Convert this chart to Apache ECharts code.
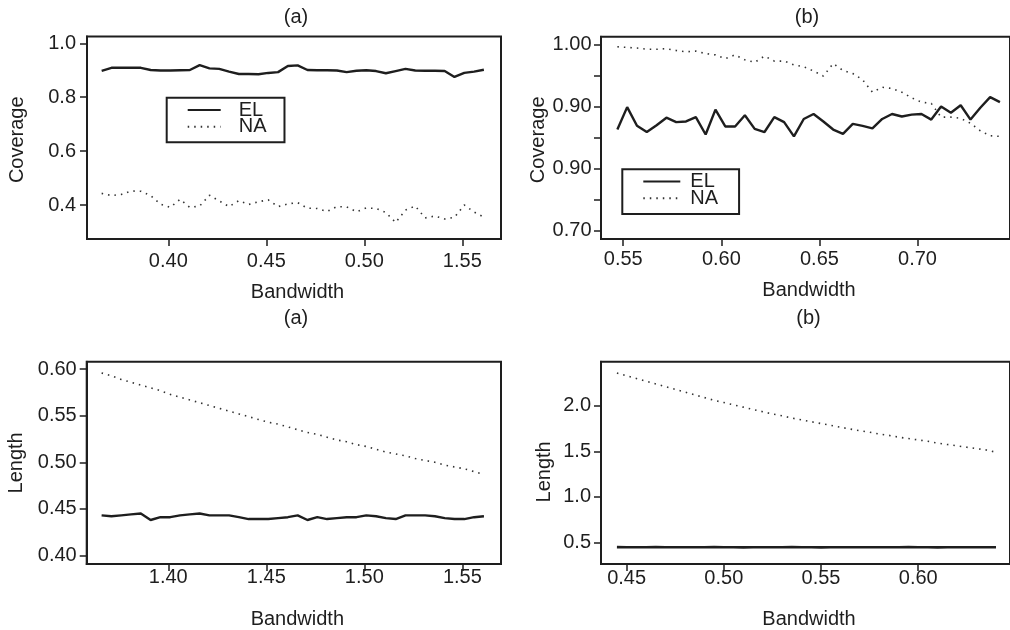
<!DOCTYPE html>
<html>
<head>
<meta charset="utf-8">
<title>Coverage and Length vs Bandwidth</title>
<script src="https://cdn.jsdelivr.net/npm/echarts@6/dist/echarts.min.js"></script>
<style>
  html, body { margin: 0; padding: 0; background: #fff; }
  #chart { width: 1010px; height: 630px; }
</style>
</head>
<body>
<div id="chart"></div>
<script>
// ---- bandwidth grids ----
const bwCovA = [0.366,0.371,0.376,0.381,0.386,0.391,0.396,0.401,0.406,0.411,0.416,0.421,0.426,0.431,0.436,0.441,0.446,0.451,0.456,0.461,0.466,0.471,0.476,0.481,0.486,0.491,0.496,0.501,0.506,0.511,0.516,0.521,0.526,0.531,0.536,0.541,0.546,0.551,0.556,0.561];
const bwCovB = [0.547,0.552,0.557,0.562,0.567,0.572,0.577,0.582,0.587,0.592,0.597,0.602,0.607,0.612,0.617,0.622,0.627,0.632,0.637,0.642,0.647,0.652,0.657,0.662,0.667,0.672,0.677,0.682,0.687,0.692,0.697,0.702,0.707,0.712,0.717,0.722,0.727,0.732,0.737,0.742];
const bwLenA = [1.366,1.371,1.376,1.381,1.386,1.391,1.396,1.401,1.406,1.411,1.416,1.421,1.426,1.431,1.436,1.441,1.446,1.451,1.456,1.461,1.466,1.471,1.476,1.481,1.486,1.491,1.496,1.501,1.506,1.511,1.516,1.521,1.526,1.531,1.536,1.541,1.546,1.551,1.556,1.561];
const bwLenB = [0.445,0.450,0.455,0.460,0.465,0.470,0.475,0.480,0.485,0.490,0.495,0.500,0.505,0.510,0.515,0.520,0.525,0.530,0.535,0.540,0.545,0.550,0.555,0.560,0.565,0.570,0.575,0.580,0.585,0.590,0.595,0.600,0.605,0.610,0.615,0.620,0.625,0.630,0.635,0.640];

// ---- coverage ----
const covElA = [0.898,0.909,0.909,0.909,0.909,0.901,0.899,0.899,0.900,0.901,0.919,0.907,0.905,0.895,0.886,0.886,0.885,0.890,0.893,0.916,0.918,0.901,0.900,0.900,0.899,0.893,0.898,0.900,0.897,0.889,0.897,0.905,0.899,0.898,0.898,0.897,0.875,0.890,0.895,0.902];
const covNaA = [0.443,0.435,0.439,0.452,0.451,0.435,0.403,0.391,0.421,0.391,0.396,0.436,0.415,0.394,0.416,0.402,0.412,0.419,0.394,0.404,0.409,0.388,0.387,0.376,0.394,0.393,0.375,0.389,0.387,0.372,0.335,0.381,0.396,0.352,0.359,0.348,0.354,0.400,0.374,0.355];
const covElB = [0.863,0.899,0.869,0.859,0.870,0.882,0.875,0.876,0.883,0.855,0.895,0.868,0.868,0.886,0.864,0.859,0.883,0.875,0.852,0.880,0.888,0.876,0.863,0.856,0.872,0.869,0.865,0.880,0.888,0.884,0.887,0.888,0.879,0.900,0.890,0.902,0.879,0.898,0.915,0.907];
const covNaB = [0.996,0.995,0.994,0.992,0.992,0.993,0.990,0.988,0.989,0.985,0.983,0.977,0.983,0.975,0.971,0.981,0.973,0.973,0.967,0.964,0.957,0.949,0.969,0.958,0.953,0.943,0.923,0.931,0.929,0.923,0.914,0.907,0.905,0.883,0.883,0.881,0.873,0.861,0.853,0.852];

// ---- interval length ----
const lenElA = [0.443,0.442,0.443,0.444,0.445,0.438,0.441,0.441,0.443,0.444,0.445,0.443,0.443,0.443,0.441,0.439,0.439,0.439,0.440,0.441,0.443,0.438,0.441,0.439,0.440,0.441,0.441,0.443,0.442,0.440,0.439,0.443,0.443,0.443,0.442,0.440,0.439,0.439,0.441,0.442];
const lenNaA = [0.596,0.593,0.589,0.586,0.583,0.580,0.577,0.573,0.570,0.567,0.564,0.561,0.558,0.555,0.552,0.549,0.546,0.543,0.541,0.538,0.535,0.532,0.530,0.527,0.524,0.522,0.519,0.517,0.514,0.511,0.509,0.507,0.504,0.502,0.500,0.497,0.495,0.493,0.490,0.487];
const lenElB = [0.448,0.447,0.446,0.447,0.448,0.447,0.446,0.447,0.446,0.447,0.448,0.447,0.446,0.445,0.446,0.447,0.446,0.447,0.448,0.447,0.446,0.445,0.446,0.447,0.446,0.446,0.447,0.447,0.446,0.447,0.448,0.447,0.446,0.445,0.446,0.447,0.447,0.446,0.447,0.447];
const lenNaB = [2.36,2.33,2.30,2.27,2.24,2.21,2.18,2.15,2.12,2.09,2.06,2.035,2.01,1.985,1.96,1.935,1.91,1.89,1.865,1.845,1.825,1.805,1.785,1.765,1.745,1.725,1.71,1.69,1.675,1.655,1.64,1.625,1.61,1.59,1.575,1.56,1.545,1.53,1.515,1.49];

// ---- tick positions and their printed labels ----
const xTicksCovA = [0.40,0.45,0.50,0.55];
const xLabelsCovA = ['0.40','0.45','0.50','1.55'];
const yTicksCovA = [0.4,0.6,0.8,1.0];
const yLabelsCovA = ['0.4','0.6','0.8','1.0'];
const xTicksCovB = [0.55,0.60,0.65,0.70];
const xLabelsCovB = ['0.55','0.60','0.65','0.70'];
const yTicksCovB = [0.70,0.75,0.80,0.85,0.90,0.95,1.00];
const yLabelsCovB = ['0.70','','0.90','','0.90','','1.00'];
const xTicksLenA = [1.40,1.45,1.50,1.55];
const xLabelsLenA = ['1.40','1.45','1.50','1.55'];
const yTicksLenA = [0.40,0.45,0.50,0.55,0.60];
const yLabelsLenA = ['0.40','0.45','0.50','0.55','0.60'];
const xTicksLenB = [0.45,0.50,0.55,0.60];
const xLabelsLenB = ['0.45','0.50','0.55','0.60'];
const yTicksLenB = [0.5,1.0,1.5,2.0];
const yLabelsLenB = ['0.5','1.0','1.5','2.0'];

const FONT = "'Liberation Sans', Arial, Helvetica, sans-serif";
const INK = '#1e1e1e';
const FS = 20;

function labelFor(vals, texts) {
  return function (v) {
    const i = vals.findIndex(t => Math.abs(t - v) < 1e-9);
    return i < 0 ? '' : texts[i];
  };
}
function pairs(xs, ys) { return xs.map((x, i) => [x, ys[i]]); }

function xAxis(gridIndex, min, max, ticks, labels, margin, nameGap) {
  return {
    type: 'value', gridIndex, min, max,
    name: 'Bandwidth', nameLocation: 'middle', nameGap,
    nameTextStyle: { fontFamily: FONT, fontSize: FS, color: INK, padding: [0, 0, 0, 7] },
    axisLine: { show: true, lineStyle: { color: INK, width: 2 } },
    axisTick: { show: true, length: 7, lineStyle: { color: INK, width: 1.5 }, customValues: ticks },
    axisLabel: { customValues: ticks, formatter: labelFor(ticks, labels), margin,
                 fontFamily: FONT, fontSize: FS, color: INK },
    splitLine: { show: false }
  };
}
function yAxis(gridIndex, name, min, max, ticks, labels, margin, nameGap, namePad) {
  return {
    type: 'value', gridIndex, min, max,
    name, nameLocation: 'middle', nameGap,
    nameTextStyle: { fontFamily: FONT, fontSize: FS, color: INK, padding: [0, namePad, 0, 0] },
    axisLine: { show: true, lineStyle: { color: INK, width: 2 } },
    axisTick: { show: true, length: 7, lineStyle: { color: INK, width: 1.5 }, customValues: ticks },
    axisLabel: { customValues: ticks, formatter: labelFor(ticks, labels), margin,
                 fontFamily: FONT, fontSize: FS, color: INK },
    splitLine: { show: false }
  };
}

const solid = { color: INK, width: 2.4, type: 'solid' };
const dotted = { color: '#333', width: 1.6, type: [1.5, 5] };

function line(name, xi, data, style) {
  return {
    type: 'line', name, xAxisIndex: xi, yAxisIndex: xi, data,
    symbol: 'none', showSymbol: false, lineStyle: style, color: style.color,
    animation: false, silent: true
  };
}

const gridBase = { show: true, borderColor: INK, borderWidth: 2, backgroundColor: 'transparent' };

// legend keys show only the line sample, no marker
const legendBase = {
  data: ['EL', 'NA'], orient: 'vertical',
  borderColor: INK, borderWidth: 2, itemHeight: 12, itemGap: -3.3, selectedMode: false,
  itemStyle: { color: 'rgba(0,0,0,0)', borderWidth: 0, opacity: 0 }
};

const option = {
  backgroundColor: '#fff',
  animation: false,
  grid: [
    Object.assign({ left: 87, top: 36.5, width: 414, height: 202.5 }, gridBase),
    Object.assign({ left: 601, top: 36.7, width: 410, height: 202.3 }, gridBase),
    Object.assign({ left: 86.7, top: 361.7, width: 414.3, height: 204 }, gridBase),
    Object.assign({ left: 601, top: 361.7, width: 410, height: 203.3 }, gridBase)
  ],
  xAxis: [
    xAxis(0, 0.35852, 0.56974, xTicksCovA, xLabelsCovA, 12, 43),
    xAxis(1, 0.53866, 0.74713, xTicksCovB, xLabelsCovB, 10, 41.5),
    xAxis(2, 1.3584, 1.5697, xTicksLenA, xLabelsLenA, 3.5, 45),
    xAxis(3, 0.43681, 0.64721, xTicksLenB, xLabelsLenB, 4, 45)
  ],
  yAxis: [
    yAxis(0, 'Coverage', 0.2738, 1.0252, yTicksCovA, yLabelsCovA, 11, 60, 4),
    yAxis(1, 'Coverage', 0.6871, 1.0122, yTicksCovB, yLabelsCovB, 9.5, 51, 4),
    yAxis(2, 'Length', 0.3907, 0.6081, yTicksLenA, yLabelsLenA, 10, 60, 0),
    yAxis(3, 'Length', 0.2629, 2.484, yTicksLenB, yLabelsLenB, 10, 47, 18)
  ],
  legend: [
    Object.assign({}, legendBase, {
      left: 166.7, top: 97.7, padding: [2.3, 18, 5.6, 20], itemWidth: 33,
      textStyle: { fontFamily: FONT, fontSize: FS, color: INK, padding: [0, 0, 0, 13] }
    }),
    Object.assign({}, legendBase, {
      left: 622.3, top: 169.3, padding: [2.3, 21, 5.6, 20], itemWidth: 37,
      textStyle: { fontFamily: FONT, fontSize: FS, color: INK, padding: [0, 0, 0, 5] }
    })
  ],
  series: [
    line('EL', 0, pairs(bwCovA, covElA), solid),
    line('NA', 0, pairs(bwCovA, covNaA), dotted),
    line('EL', 1, pairs(bwCovB, covElB), solid),
    line('NA', 1, pairs(bwCovB, covNaB), dotted),
    line('EL', 2, pairs(bwLenA, lenElA), solid),
    line('NA', 2, pairs(bwLenA, lenNaA), dotted),
    line('EL', 3, pairs(bwLenB, lenElB), Object.assign({}, solid, { width: 2.6 })),
    line('NA', 3, pairs(bwLenB, lenNaB), dotted)
  ],
  graphic: [
    { type: 'text', x: 296, y: 17, style: { text: '(a)', align: 'center', verticalAlign: 'middle', fontFamily: FONT, fontSize: FS, fill: INK } },
    { type: 'text', x: 807, y: 17, style: { text: '(b)', align: 'center', verticalAlign: 'middle', fontFamily: FONT, fontSize: FS, fill: INK } },
    { type: 'text', x: 296, y: 318.5, style: { text: '(a)', align: 'center', verticalAlign: 'middle', fontFamily: FONT, fontSize: FS, fill: INK } },
    { type: 'text', x: 808.5, y: 318.5, style: { text: '(b)', align: 'center', verticalAlign: 'middle', fontFamily: FONT, fontSize: FS, fill: INK } }
  ]
};

const chart = echarts.init(document.getElementById('chart'), null, { renderer: 'canvas' });
chart.setOption(option);
</script>
</body>
</html>
